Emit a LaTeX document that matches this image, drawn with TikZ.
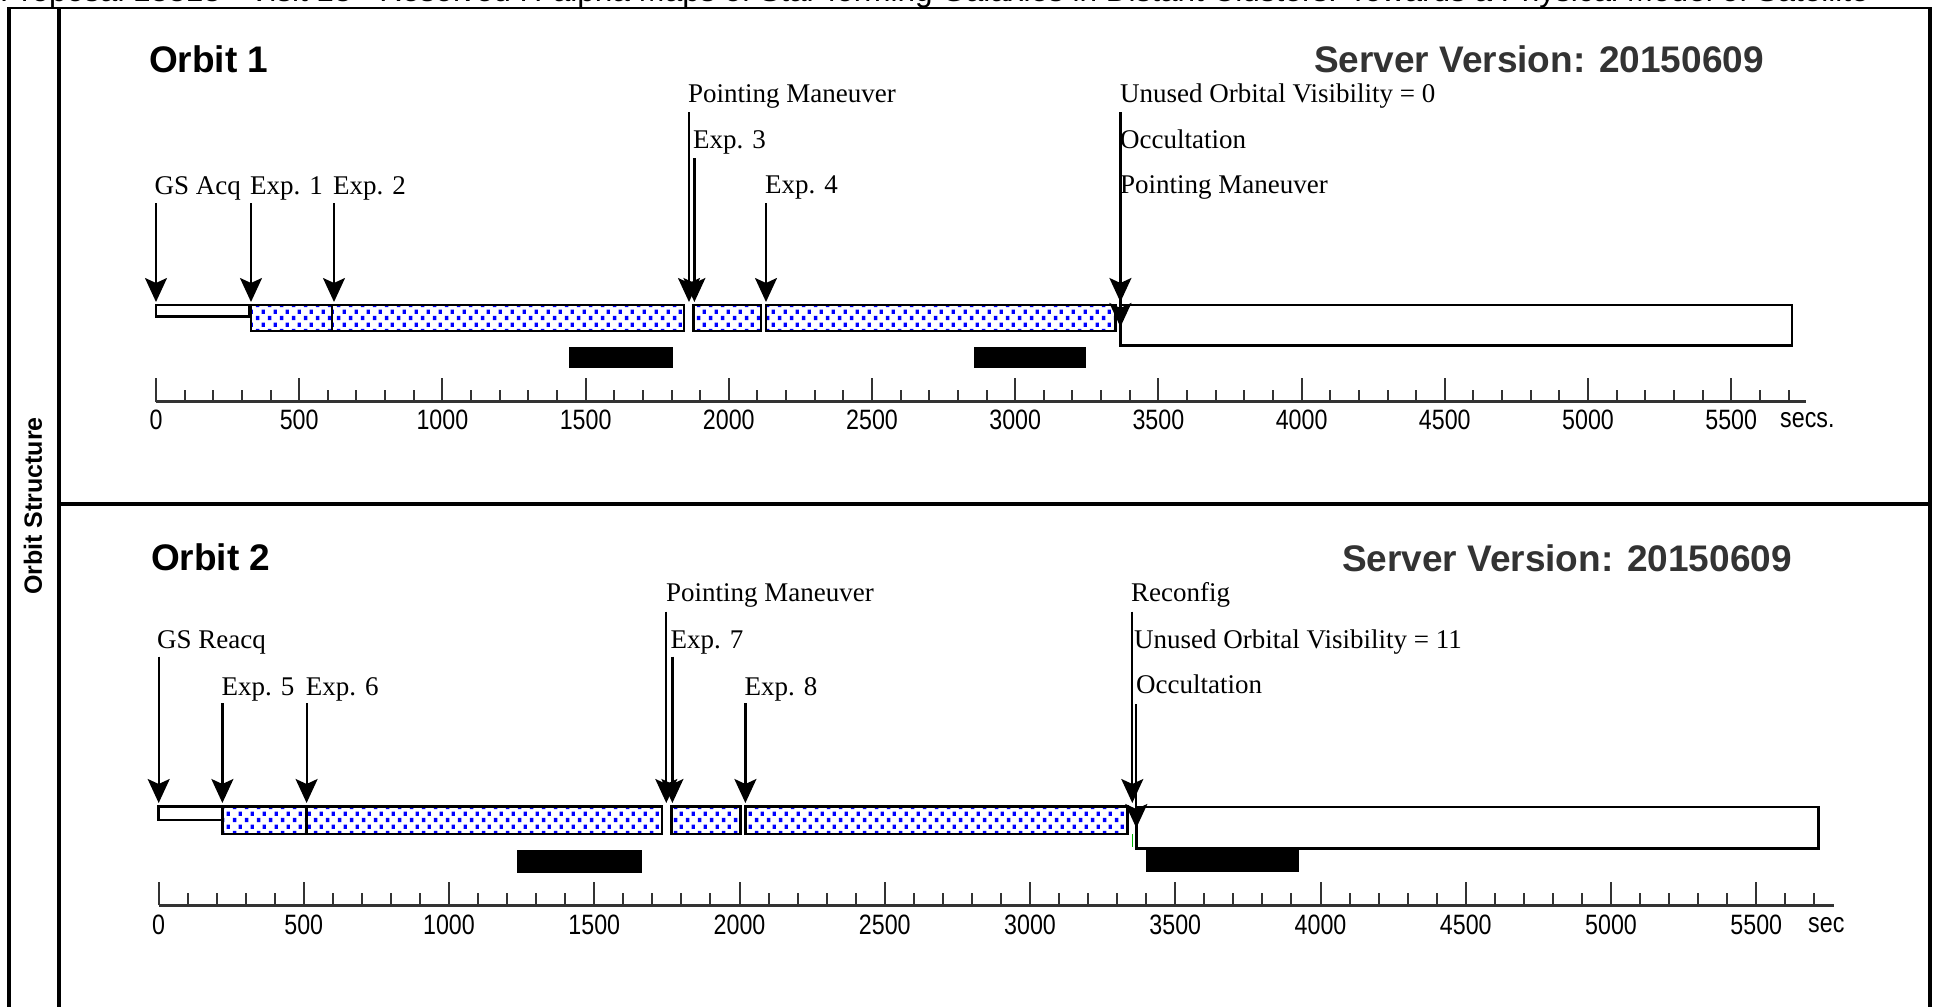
\documentclass[tikz,border=0pt]{standalone}
\usepackage{fontspec}
\setmainfont{Liberation Serif}
\newfontfamily\lsans{Liberation Sans}
\newfontfamily\lsansn[FakeStretch=0.83]{Liberation Sans}
\usetikzlibrary{arrows.meta,patterns}
\definecolor{axisgray}{HTML}{333333}
\definecolor{dotblue}{HTML}{0000FF}
\definecolor{tickgreen}{HTML}{00B000}
\pgfdeclarepatternformonly{bluedots}{\pgfqpoint{0pt}{0pt}}{\pgfqpoint{11.6pt}{13.2pt}}{\pgfqpoint{11.6pt}{13.2pt}}{%
  \pgfpathrectangle{\pgfqpoint{1pt}{1pt}}{\pgfqpoint{3.4pt}{4.4pt}}%
  \pgfpathrectangle{\pgfqpoint{6.8pt}{7.6pt}}{\pgfqpoint{3.4pt}{4.4pt}}%
  \pgfusepath{fill}}
\tikzset{
  frameline/.style={line width=4.5pt, black},
  evlabel/.style={anchor=base west, inner sep=0pt, font=\fontsize{27}{27}\selectfont},
  evarrow/.style={line width=2.2pt, -{Stealth[length=24pt,width=22pt,inset=5pt]}},
  expbar/.style={draw=black, line width=2.5pt, pattern=bluedots, pattern color=dotblue},
  idlebar/.style={draw=black, line width=2.5pt, fill=white},
  occbar/.style={fill=black},
  orbittitle/.style={anchor=base west, inner sep=0pt, font=\lsans\bfseries\fontsize{37}{37}\selectfont},
  servertitle/.style={anchor=base east, inner sep=0pt, text=axisgray, font=\lsans\bfseries\fontsize{37}{37}\selectfont},
  axisline/.style={line width=3pt, axisgray},
  tickline/.style={line width=2pt, axisgray},
  ticklabel/.style={inner sep=0pt, font=\lsansn\fontsize{28}{28}\selectfont},
}
\begin{document}
\begin{tikzpicture}[x=1pt,y=-1pt]
\useasboundingbox (0,0) rectangle (1935,1007);
\fill[white] (0,0) rectangle (1935,1007);

% title, cut off at the top edge as in the reference
\begin{scope}
  \clip (0,0) rectangle (1935,7);
  \node[anchor=base west, inner sep=0pt, font=\lsans\fontsize{31.5}{31.5}\selectfont] (title) at (0,1.5)
    {Proposal 13813 - Visit 13 - Resolved H-alpha Maps of Star-forming Galaxies in Distant Clusters: Towards a Physical Model of Satellite};
\end{scope}

% frame
\draw[black, line width=2.5pt] (7,8) -- (1932,8);
\draw[frameline] (9,7) -- (9,1007);
\draw[frameline] (59,7) -- (59,1007);
\draw[frameline] (59,504) -- (1930,504);
\draw[black, line width=3.5pt] (1930,7) -- (1930,1007);
\node[rotate=90, inner sep=0pt, font=\lsans\bfseries\fontsize{25}{25}\selectfont] (side) at (33,506) {Orbit Structure};

% ================= ORBIT 1 =================
\node[orbittitle] (o1title) at (149,72) {Orbit 1};
\node[servertitle] (o1server) at (1764,72) {Server Version: 20150609};

\draw[idlebar] (156.2,305) rectangle (249.5,316.7);
\draw[expbar] (250.9,305) rectangle (332,331);
\draw[expbar] (332,305) rectangle (683.9,331);
\draw[expbar] (693.5,305) rectangle (761,331);
\draw[expbar] (765.8,305) rectangle (1115.3,331);
\draw[idlebar] (1120.4,305) rectangle (1792,345.7);
\fill[occbar] (569,347) rectangle (673,368);
\fill[occbar] (974,347) rectangle (1086,368);

\foreach \nm/\txt/\lx/\ly in {
  o1gs/GS Acq/154.5/194, o1ea/Exp. 1/250/194, o1eb/Exp. 2/333/194,
  o1pm/Pointing Maneuver/688/102.5, o1ec/Exp. 3/693/148, o1ed/Exp. 4/765/193.5,
  o1uv/Unused Orbital Visibility = 0/1120/102.5, o1oc/Occultation/1120/148,
  o1pn/Pointing Maneuver/1120/193.5}
  \node[evlabel] (\nm) at (\lx,\ly) {\txt};

\foreach \nm/\ax/\at/\ab in {
  o1gs/156/203/302, o1ea/251/203/302, o1eb/334/203/302,
  o1pm/689/112/302, o1ec/694.4/158/302, o1ed/766/203/302,
  o1uv/1120.4/112/302, o1oc/1120.4/158/327}
{
  \coordinate (\nm T) at (\ax,\at);
  \coordinate (\nm B) at (\ax,\ab);
  \draw[evarrow] (\nm T) -- (\nm B);
}

\draw[axisline] (156,401.7) -- (1806,401.7);
\foreach \i in {0,...,57} {
  \pgfmathsetmacro\xx{156+28.64*\i}
  \pgfmathsetmacro\ty{ifthenelse(mod(\i,5)==0,378,390)}
  \draw[tickline] (\xx,401.7) -- (\xx,\ty);
}
\foreach \i in {0,...,11} {
  \pgfmathtruncatemacro\lab{\i*500}
  \node[ticklabel] (o1lab\i) at ({156+143.2*\i},420) {\lab};
}
\node[ticklabel, anchor=west] (o1secs) at (1780,420) {secs.};

% ================= ORBIT 2 =================
\node[orbittitle] (o2title) at (151,570) {Orbit 2};
\node[servertitle] (o2server) at (1792,571) {Server Version: 20150609};

\draw[idlebar] (158.7,806.7) rectangle (222.4,820);
\draw[expbar] (222.4,806.7) rectangle (306.6,834);
\draw[expbar] (306.6,806.7) rectangle (662.2,834);
\draw[expbar] (671.4,806.7) rectangle (740.3,834);
\draw[expbar] (745.4,806.7) rectangle (1127.7,834);
\draw[idlebar] (1136.3,807) rectangle (1818.7,848.3);
\fill[occbar] (517.3,850) rectangle (641.8,872.7);
\fill[occbar] (1145.5,849) rectangle (1298.6,872);
\draw[tickgreen, line width=1.5pt] (1132.3,834) -- (1132.3,847);

\foreach \nm/\txt/\lx/\ly in {
  o2pm/Pointing Maneuver/666/601.7, o2rc/Reconfig/1131/601.7,
  o2gs/GS Reacq/157/648.3, o2eg/Exp. 7/670.4/648.3,
  o2uv/Unused Orbital Visibility = 11/1134/648.3,
  o2ee/Exp. 5/221.4/695, o2ef/Exp. 6/305.6/695, o2eh/Exp. 8/744.4/695,
  o2oc/Occultation/1136/693.3}
  \node[evlabel] (\nm) at (\lx,\ly) {\txt};

\foreach \nm/\ax/\at/\ab in {
  o2pm/666.3/611.7/803, o2rc/1132.3/611.7/803,
  o2gs/158.7/656.7/803, o2eg/672.4/656.7/803,
  o2ee/222.4/703.3/803, o2ef/306.6/703.3/803, o2eh/745.4/703.3/803,
  o2oc/1136.3/704/828}
{
  \coordinate (\nm T) at (\ax,\at);
  \coordinate (\nm B) at (\ax,\ab);
  \draw[evarrow] (\nm T) -- (\nm B);
}

\draw[axisline] (158.5,905) -- (1834.4,905);
\foreach \i in {0,...,57} {
  \pgfmathsetmacro\xx{158.5+29.05*\i}
  \pgfmathsetmacro\ty{ifthenelse(mod(\i,5)==0,881.7,893.3)}
  \draw[tickline] (\xx,905) -- (\xx,\ty);
}
\foreach \i in {0,...,11} {
  \pgfmathtruncatemacro\lab{\i*500}
  \node[ticklabel] (o2lab\i) at ({158.5+145.25*\i},925) {\lab};
}
\node[ticklabel, anchor=west] (o2sec) at (1808,925) {sec};
\end{tikzpicture}
\end{document}
